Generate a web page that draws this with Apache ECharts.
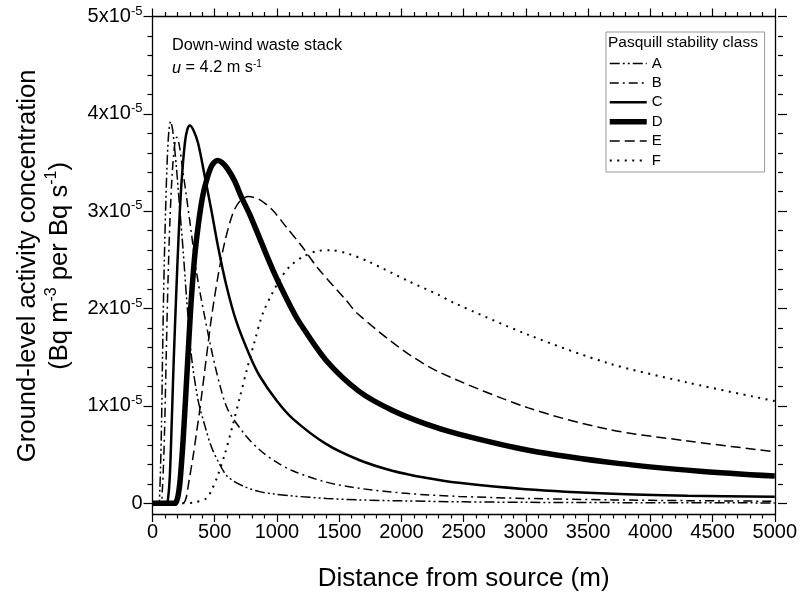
<!DOCTYPE html>
<html><head><meta charset="utf-8">
<script src="https://cdn.jsdelivr.net/npm/echarts@6/dist/echarts.min.js"></script>
<style>html,body{margin:0;padding:0;background:#fff}#c{width:800px;height:597px}</style>
</head><body><div id="c"></div>
<script>
// Distances (m) and concentrations (units of 1e-5 Bq m^-3 per Bq s^-1)
const distA = [0, 50, 58, 65, 73, 80, 87, 95, 105, 116, 130, 145, 160, 175, 193, 220, 246, 273, 313, 366, 420, 473, 540, 606, 740, 860, 980, 1126, 1400, 1660, 2000, 2500, 3000, 4000, 5000];
const concA = [0, 0, 0.12, 0.38, 0.85, 1.45, 2.0, 2.5, 3.0, 3.45, 3.8, 3.92, 3.85, 3.68, 3.44, 3.01, 2.60, 2.12, 1.51, 1.06, 0.80, 0.58, 0.40, 0.27, 0.17, 0.12, 0.095, 0.075, 0.05, 0.035, 0.025, 0.015, 0.01, 0.006, 0.004];
const distB = [0, 65, 78, 88, 98, 110, 125, 140, 158, 178, 195, 215, 240, 273, 313, 353, 393, 473, 540, 606, 740, 860, 980, 1126, 1394, 1660, 2060, 2460, 3000, 3700, 4300, 5000];
const concB = [0, 0, 0.12, 0.38, 0.8, 1.5, 2.3, 2.9, 3.38, 3.68, 3.76, 3.68, 3.45, 3.15, 2.77, 2.38, 2.09, 1.58, 1.22, 0.96, 0.71, 0.55, 0.435, 0.334, 0.218, 0.154, 0.10, 0.071, 0.05, 0.035, 0.027, 0.021];
const distC = [0, 110, 125, 140, 155, 170, 190, 210, 233, 260, 280, 300, 330, 366, 420, 473, 526, 593, 673, 780, 860, 1000, 1126, 1394, 1660, 1926, 2194, 2460, 3000, 3700, 4300, 5000];
const concC = [0, 0, 0.05, 0.3, 0.85, 1.45, 2.13, 2.75, 3.29, 3.70, 3.84, 3.88, 3.83, 3.70, 3.36, 3.01, 2.64, 2.24, 1.87, 1.52, 1.31, 1.05, 0.87, 0.61, 0.445, 0.335, 0.262, 0.21, 0.145, 0.098, 0.078, 0.066];
const distD = [0, 180, 193, 206, 220, 233, 246, 260, 280, 300, 313, 340, 366, 393, 420, 473, 521, 560, 606, 660, 713, 780, 846, 900, 966, 1020, 1126, 1180, 1394, 1660, 1926, 2194, 2460, 3020, 3740, 4400, 5000];
const concD = [0, 0, 0.02, 0.08, 0.21, 0.41, 0.65, 0.95, 1.40, 1.85, 2.12, 2.55, 2.84, 3.08, 3.25, 3.46, 3.52, 3.50, 3.43, 3.31, 3.15, 2.97, 2.77, 2.60, 2.40, 2.25, 1.98, 1.86, 1.47, 1.15, 0.955, 0.815, 0.71, 0.545, 0.41, 0.33, 0.28];
const distE = [0, 240, 260, 273, 286, 300, 326, 353, 380, 433, 473, 526, 580, 646, 700, 770, 860, 966, 1073, 1200, 1326, 1553, 1646, 2005, 2300, 3020, 3660, 4300, 5000];
const concE = [0, 0, 0.02, 0.07, 0.17, 0.28, 0.48, 0.72, 0.96, 1.5, 1.9, 2.33, 2.68, 2.98, 3.10, 3.15, 3.12, 3.01, 2.84, 2.64, 2.42, 2.09, 1.95, 1.58, 1.35, 0.98, 0.76, 0.64, 0.53];
const distF = [0, 220, 340, 433, 473, 520, 580, 640, 700, 760, 820, 886, 960, 1020, 1100, 1206, 1320, 1433, 1580, 1740, 2060, 2300, 2420, 3020, 3660, 4300, 5000];
const concF = [0, 0, 0.01, 0.05, 0.13, 0.27, 0.50, 0.78, 1.08, 1.38, 1.66, 1.95, 2.15, 2.29, 2.43, 2.53, 2.59, 2.60, 2.56, 2.48, 2.28, 2.14, 2.06, 1.73, 1.44, 1.24, 1.05];

const classNames = ['A', 'B', 'C', 'D', 'E', 'F'];
const xTicks = [0, 5000, 500];       // min, max, interval
const yTicks = [0, 5, 1];            // in units of 1e-5
const yBottom = -0.11;               // frame bottom (below zero)

const FONT = 'Arial, "Liberation Sans", sans-serif';
const zip = (xs, ys) => xs.map((x, i) => [x, ys[i]]);

const styles = {
  A: {width: 1.5, type: [10, 3, 2, 3, 2, 3]},
  B: {width: 1.5, type: [9, 4, 2, 4]},
  C: {width: 2.5, type: 'solid'},
  D: {width: 5.5, type: 'solid'},
  E: {width: 1.5, type: [10, 5]},
  F: {width: 2, type: [2, 5.5]}
};
const dataSets = {
  A: zip(distA, concA), B: zip(distB, concB), C: zip(distC, concC),
  D: zip(distD, concD), E: zip(distE, concE), F: zip(distF, concF)
};

const frameLine = {show: true, onZero: false, lineStyle: {color: '#000', width: 1.3}};
const tickStyle = {color: '#000', width: 1.2};

const chart = echarts.init(document.getElementById('c'), null, {renderer: 'canvas'});
chart.setOption({
  animation: false,
  backgroundColor: '#fff',
  textStyle: {fontFamily: FONT},
  title: [
    {text: 'Down-wind waste stack', left: 172, top: 38, padding: 0,
     textStyle: {fontSize: 16.3, fontWeight: 'normal', color: '#000', fontFamily: FONT}},
    {text: '{i|u}{t| = 4.2 m s}{s|-1}', left: 172, top: 59, padding: 0,
     textStyle: {fontWeight: 'normal', rich: {
       i: {fontSize: 16.3, fontStyle: 'italic', fontWeight: 'normal', color: '#000', fontFamily: FONT, lineHeight: 18},
       t: {fontSize: 16.3, fontWeight: 'normal', color: '#000', fontFamily: FONT, lineHeight: 18},
       s: {fontSize: 10, fontWeight: 'normal', color: '#000', fontFamily: FONT, verticalAlign: 'top', lineHeight: 10}
     }}},
    {text: 'Pasquill stability class', left: 608, top: 35, padding: 0,
     textStyle: {fontSize: 15.5, fontWeight: 'normal', color: '#000', fontFamily: FONT}}
  ],
  legend: {
    orient: 'vertical', left: 606, top: 32,
    padding: [24, 102, 4, 1],
    itemWidth: 37, itemHeight: 14, itemGap: 4.4,
    borderColor: '#999', borderWidth: 1,
    itemStyle: {opacity: 0, borderWidth: 0},
    textStyle: {fontSize: 15, color: '#000', fontFamily: FONT, lineHeight: 14},
    data: classNames.map(k => ({
      name: k,
      lineStyle: {color: '#000', width: styles[k].width, type: styles[k].type}
    }))
  },
  grid: [
    {left: 152.5, right: 22, top: 16.5, height: 497.5},
    {left: 152.5, right: 22, top: 16.5, height: 486.8}
  ],
  xAxis: [
    {gridIndex: 0, type: 'value', position: 'bottom', min: xTicks[0], max: xTicks[1], interval: xTicks[2],
     axisLine: frameLine,
     axisTick: {show: true, inside: false, length: 8, lineStyle: tickStyle},
     minorTick: {show: true, splitNumber: 5, length: 4.5, lineStyle: tickStyle},
     splitLine: {show: false},
     axisLabel: {show: true, margin: 8, fontSize: 20, color: '#000', fontFamily: FONT,
       formatter: v => String(v)},
     name: 'Distance from source (m)', nameLocation: 'middle', nameGap: 52,
     nameTextStyle: {fontSize: 26, color: '#000', fontFamily: FONT, lineHeight: 26}},
    {gridIndex: 0, type: 'value', position: 'top', min: xTicks[0], max: xTicks[1], interval: xTicks[2],
     axisLine: frameLine,
     axisTick: {show: true, inside: false, length: 8, lineStyle: tickStyle},
     minorTick: {show: true, splitNumber: 5, length: 4.5, lineStyle: tickStyle},
     splitLine: {show: false}, axisLabel: {show: false}},
    {gridIndex: 1, type: 'value', min: xTicks[0], max: xTicks[1], show: false}
  ],
  yAxis: [
    {gridIndex: 0, type: 'value', position: 'left', min: yBottom, max: yTicks[1],
     axisLine: frameLine, axisTick: {show: false}, axisLabel: {show: false}, splitLine: {show: false}},
    {gridIndex: 0, type: 'value', position: 'right', min: yBottom, max: yTicks[1],
     axisLine: frameLine, axisTick: {show: false}, axisLabel: {show: false}, splitLine: {show: false}},
    {gridIndex: 1, type: 'value', position: 'left', min: yTicks[0], max: yTicks[1], interval: yTicks[2],
     axisLine: {show: false, onZero: false},
     axisTick: {show: true, inside: false, length: 9, lineStyle: tickStyle},
     minorTick: {show: true, splitNumber: 5, length: 5, lineStyle: tickStyle},
     splitLine: {show: false},
     axisLabel: {show: true, margin: 10,
       formatter: v => v === 0 ? '{n|0}' : '{n|' + v + 'x10}{s|-5}',
       rich: {
         n: {fontSize: 20, color: '#000', fontFamily: FONT, lineHeight: 24},
         s: {fontSize: 13, color: '#000', fontFamily: FONT, verticalAlign: 'top', lineHeight: 13}
       }},
     name: '{t|Ground-level activity concentration}\n{t|(Bq m}{s|-3}{t| per Bq s}{s|-1}{t|)}',
     nameLocation: 'middle', nameRotate: 90, nameGap: 77,
     nameTextStyle: {padding: [0, 12, 0, 0], rich: {
       t: {fontSize: 25.6, color: '#000', fontFamily: FONT, lineHeight: 32},
       s: {fontSize: 16, color: '#000', fontFamily: FONT, verticalAlign: 'top', lineHeight: 20}
     }}},
    {gridIndex: 1, type: 'value', position: 'right', min: yTicks[0], max: yTicks[1], interval: yTicks[2],
     axisLine: {show: false, onZero: false},
     axisTick: {show: true, inside: false, length: 9, lineStyle: tickStyle},
     minorTick: {show: true, splitNumber: 5, length: 5, lineStyle: tickStyle},
     splitLine: {show: false}, axisLabel: {show: false}}
  ],
  series: classNames.map(k => ({
    name: k, type: 'line', xAxisIndex: 0, yAxisIndex: 0,
    data: dataSets[k], showSymbol: false, symbol: 'none', smooth: 0.3,
    lineStyle: {color: '#000', width: styles[k].width, type: styles[k].type},
    itemStyle: {color: '#000'},
    z: k === 'D' ? 3 : 2
  }))
});
</script></body></html>
